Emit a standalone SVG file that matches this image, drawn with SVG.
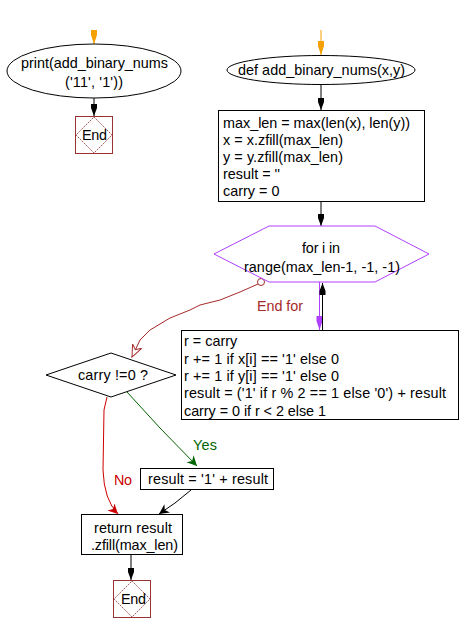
<svg xmlns="http://www.w3.org/2000/svg" width="463" height="633" viewBox="0 0 463 633">
<style>
text{font-family:"Liberation Sans",Arial,sans-serif;font-size:14.4px;fill:#000}
.c{text-anchor:middle}
.sh{fill:#fff;stroke:#000;stroke-width:1}
.endbox{fill:#fff;stroke:#993333;stroke-width:1}
.endd{fill:none;stroke:#993333;stroke-width:0.8;stroke-dasharray:2,1}
.ln{fill:none;stroke-width:1}
</style>
<defs>
<marker id="ab" markerWidth="12" markerHeight="8" refX="12" refY="3.5" orient="auto" markerUnits="userSpaceOnUse" viewBox="0 0 12 7"><path d="M0,0.5 L4,0.5 L12,3.5 L4,6.5 L0,6.5Z" fill="#000"/></marker>
<marker id="ao" markerWidth="14" markerHeight="8" refX="14" refY="3.5" orient="auto" markerUnits="userSpaceOnUse" viewBox="0 0 14 7"><path d="M0,0.5 L5,0.5 L14,3.5 L5,6.5 L0,6.5Z" fill="#f5a000"/></marker>
<marker id="ap" markerWidth="14" markerHeight="8" refX="14" refY="3.5" orient="auto" markerUnits="userSpaceOnUse" viewBox="0 0 14 7"><path d="M0,0.5 L5,0.5 L14,3.5 L5,6.5 L0,6.5Z" fill="#b040ff"/></marker>
<marker id="ag" markerWidth="12" markerHeight="12" refX="10" refY="5" orient="auto" markerUnits="userSpaceOnUse" viewBox="0 0 12 10"><path d="M0,0 L10,5 L0,10 L3,5Z" fill="#006400"/></marker>
<marker id="ar" markerWidth="12" markerHeight="12" refX="10" refY="5" orient="auto" markerUnits="userSpaceOnUse" viewBox="0 0 12 10"><path d="M0,0 L10,5 L0,10 L3,5Z" fill="#cc0000"/></marker>
<marker id="ak" markerWidth="12" markerHeight="12" refX="10" refY="5" orient="auto" markerUnits="userSpaceOnUse" viewBox="0 0 12 10"><path d="M0,0 L10,5 L0,10 L3,5Z" fill="#000"/></marker>
<marker id="aopen" markerWidth="14" markerHeight="12" refX="12" refY="5" orient="auto" markerUnits="userSpaceOnUse" viewBox="0 0 14 10"><path d="M0,0 L12,5 L0,10 L4,5Z" fill="#fff" stroke="#a52a2a" stroke-width="1"/></marker>
</defs>

<g id="connectors">
<line class="ln" x1="94" y1="30" x2="94" y2="44" stroke="#f5a000" marker-end="url(#ao)"/>
<line class="ln" x1="94" y1="98" x2="94" y2="116" stroke="#000" marker-end="url(#ab)"/>
<line class="ln" x1="321" y1="30" x2="321" y2="55" stroke="#f5a000" marker-end="url(#ao)"/>
<line class="ln" x1="321" y1="84" x2="321" y2="110" stroke="#000" marker-end="url(#ab)"/>
<line class="ln" x1="321" y1="201" x2="321" y2="226" stroke="#000" marker-end="url(#ab)"/>
<line class="ln" x1="319.5" y1="282" x2="319.5" y2="330" stroke="#b040ff" marker-end="url(#ap)"/>
<line class="ln" x1="322.5" y1="330" x2="322.5" y2="283" stroke="#000" marker-end="url(#ab)"/>
<polyline class="ln" points="258,284 240,292 220,300 200,305 190,310 170,318 150,330 140,340 132,357" stroke="#a52a2a" marker-end="url(#aopen)"/>
<circle cx="261" cy="282" r="3.5" fill="#fff" stroke="#a52a2a" stroke-width="1"/>
<text x="257" y="311" textLength="46" style="fill:#a52a2a">End for</text>
<polyline class="ln" points="127,392 160,428 197,466" stroke="#006400" marker-end="url(#ag)"/>
<text x="193" y="450" textLength="24" style="fill:#006400">Yes</text>
<path class="ln" d="M107,397 L104,410 L103,470 Q104,500 118,514" stroke="#cc0000" marker-end="url(#ar)"/>
<text x="114" y="485" textLength="18" style="fill:#cc0000">No</text>
<polyline class="ln" points="191,490 175,503 159,514" stroke="#000" marker-end="url(#ak)"/>
<line class="ln" x1="131" y1="555" x2="131" y2="580" stroke="#000" marker-end="url(#ab)"/>
</g>

<g id="print_call">
<ellipse class="sh" cx="94" cy="71" rx="87" ry="27"/>
<text class="c" x="94.5" y="68" textLength="147">print(add_binary_nums</text>
<text class="c" x="94" y="87" textLength="58">('11', '1'))</text>
</g>
<g id="end1">
<rect class="endbox" x="75.5" y="116.5" width="37" height="37"/>
<path class="endd" d="M94,117 L112,135 L94,153 L76,135Z"/>
<text class="c" x="94.5" y="140" textLength="25">End</text>
</g>

<g id="def_func">
<ellipse class="sh" cx="321" cy="70" rx="94" ry="14.5"/>
<text class="c" x="321.5" y="75" textLength="167">def add_binary_nums(x,y)</text>
</g>
<g id="init_box">
<rect class="sh" x="218.5" y="110.5" width="206" height="91"/>
<text x="223" y="128" textLength="187">max_len = max(len(x), len(y))</text>
<text x="223" y="145" textLength="120">x = x.zfill(max_len)</text>
<text x="223" y="162" textLength="120">y = y.zfill(max_len)</text>
<text x="223" y="179">result = ''</text>
<text x="223" y="196">carry = 0</text>
</g>
<g id="for_loop">
<polygon points="214,254 269,226 375,226 429,254 375,282 269,282" fill="#fff" stroke="#b040ff" stroke-width="1"/>
<text class="c" x="321" y="253" textLength="38">for i in</text>
<text class="c" x="322" y="272" textLength="156">range(max_len-1, -1, -1)</text>
</g>
<g id="loop_body">
<rect class="sh" x="181.5" y="330.5" width="277" height="89"/>
<text x="184" y="346">r = carry</text>
<text x="184" y="364" textLength="155">r += 1 if x[i] == '1' else 0</text>
<text x="184" y="381" textLength="155">r += 1 if y[i] == '1' else 0</text>
<text x="184" y="398" textLength="262">result = ('1' if r % 2 == 1 else '0') + result</text>
<text x="184" y="416" textLength="142">carry = 0 if r &lt; 2 else 1</text>
</g>
<g id="carry_check">
<polygon class="sh" points="46,375 111,353 176,375 111,397"/>
<text class="c" x="113" y="380" textLength="70">carry !=0 ?</text>
</g>
<g id="add_one">
<rect class="sh" x="140.5" y="468.5" width="133" height="21"/>
<text class="c" x="208" y="484" textLength="120">result = '1' + result</text>
</g>
<g id="return_box">
<rect class="sh" x="81.5" y="514.5" width="101" height="40"/>
<text class="c" x="133" y="533" textLength="78">return result</text>
<text class="c" x="134.5" y="550" textLength="87">.zfill(max_len)</text>
</g>
<g id="end2">
<rect class="endbox" x="113.5" y="580.5" width="37" height="37"/>
<path class="endd" d="M132,581 L150,599 L132,617 L114,599Z"/>
<text class="c" x="133.5" y="604" textLength="25">End</text>
</g>
</svg>
